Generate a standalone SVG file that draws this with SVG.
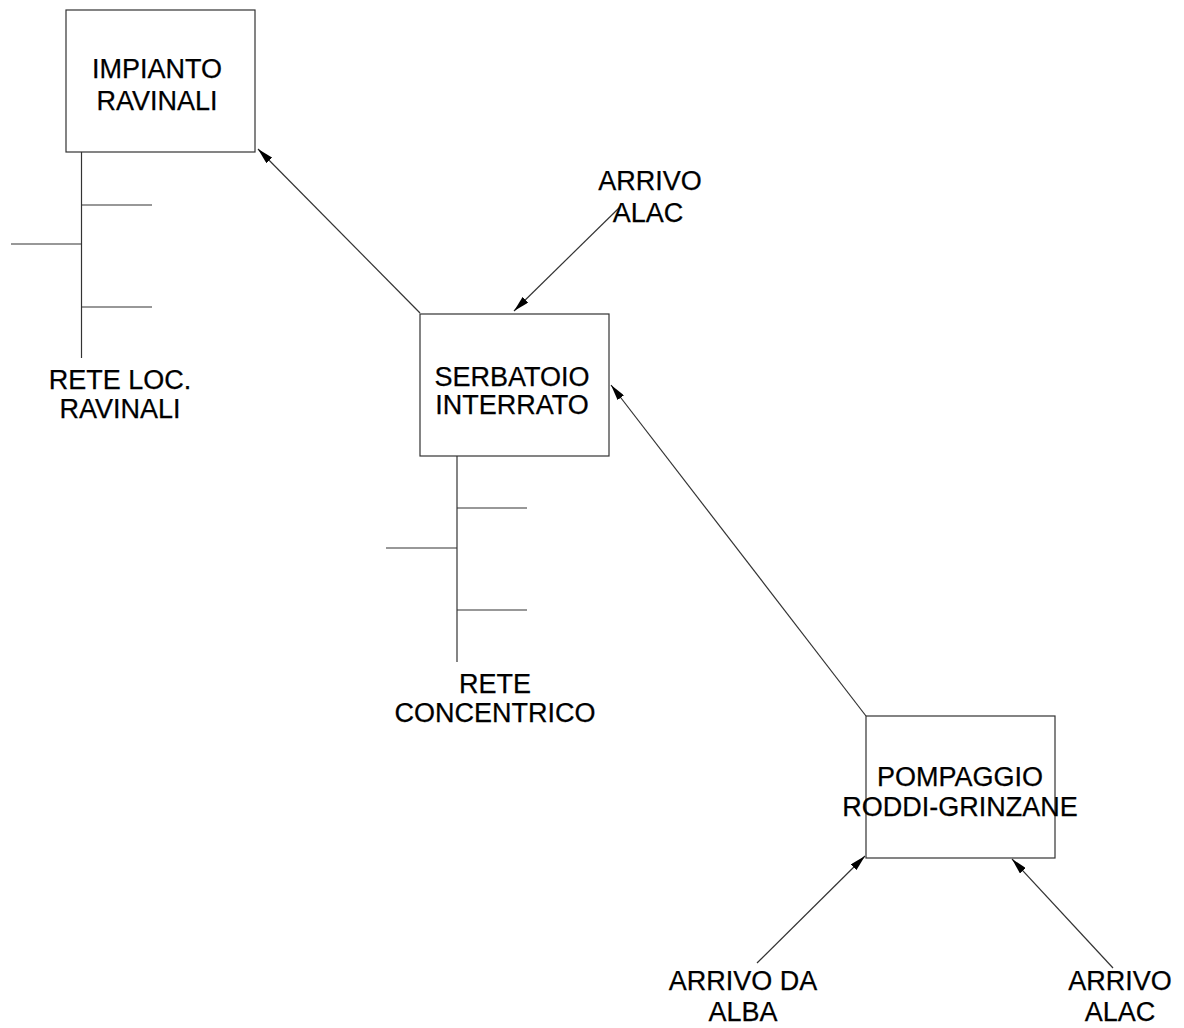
<svg xmlns="http://www.w3.org/2000/svg" width="1184" height="1028" viewBox="0 0 1184 1028">
<style>
.box{fill:#fff;stroke:#333;stroke-width:1.2}
.ln{stroke:#333;stroke-width:1.2;fill:none}
.t{font-family:"Liberation Sans",Arial,sans-serif;font-size:27px;fill:#000;text-anchor:middle;stroke:#000;stroke-width:0.25}
</style>
<defs>
<marker id="ah" viewBox="0 0 16 8" refX="16" refY="4" markerWidth="16" markerHeight="8" markerUnits="userSpaceOnUse" orient="auto">
<path d="M0,0 L16,4 L0,8 Z" fill="#000"/>
</marker>
</defs>
<rect width="1184" height="1028" fill="#fff"/>
<g id="connectors">
<line class="ln" x1="420" y1="313" x2="258" y2="149" marker-end="url(#ah)"/>
<line class="ln" x1="620" y1="207" x2="514" y2="311" marker-end="url(#ah)"/>
<line class="ln" x1="866" y1="716" x2="611" y2="385" marker-end="url(#ah)"/>
<line class="ln" x1="757" y1="963" x2="865" y2="856" marker-end="url(#ah)"/>
<line class="ln" x1="1113" y1="968" x2="1012" y2="859" marker-end="url(#ah)"/>
</g>
<g id="impianto">
<rect class="box" x="66" y="10" width="189" height="142"/>
<text class="t" x="157" y="78">IMPIANTO</text>
<text class="t" x="157" y="110">RAVINALI</text>
</g>
<g id="rete-loc">
<line class="ln" x1="81.5" y1="152" x2="81.5" y2="358"/>
<line class="ln" x1="81.5" y1="205" x2="152" y2="205"/>
<line class="ln" x1="81.5" y1="307" x2="152" y2="307"/>
<line class="ln" x1="11" y1="244" x2="81.5" y2="244"/>
<text class="t" x="120" y="389">RETE LOC.</text>
<text class="t" x="120" y="418">RAVINALI</text>
</g>
<g id="serbatoio">
<rect class="box" x="420" y="314" width="189" height="142"/>
<text class="t" x="512" y="386">SERBATOIO</text>
<text class="t" x="512" y="414">INTERRATO</text>
</g>
<g id="rete-concentrico">
<line class="ln" x1="457" y1="456" x2="457" y2="662"/>
<line class="ln" x1="457" y1="508" x2="527" y2="508"/>
<line class="ln" x1="457" y1="610" x2="527" y2="610"/>
<line class="ln" x1="386" y1="548" x2="457" y2="548"/>
<text class="t" x="495" y="693">RETE</text>
<text class="t" x="495" y="722">CONCENTRICO</text>
</g>
<g id="arrivo-alac-1">
<text class="t" x="650" y="190">ARRIVO</text>
<text class="t" x="648" y="222">ALAC</text>
</g>
<g id="pompaggio">
<rect class="box" x="866" y="716" width="189" height="142"/>
<text class="t" x="960" y="786">POMPAGGIO</text>
<text class="t" x="960" y="816">RODDI-GRINZANE</text>
</g>
<g id="arrivo-alba">
<text class="t" x="743" y="990">ARRIVO DA</text>
<text class="t" x="743" y="1021">ALBA</text>
</g>
<g id="arrivo-alac-2">
<text class="t" x="1120" y="990">ARRIVO</text>
<text class="t" x="1120" y="1021">ALAC</text>
</g>
</svg>
